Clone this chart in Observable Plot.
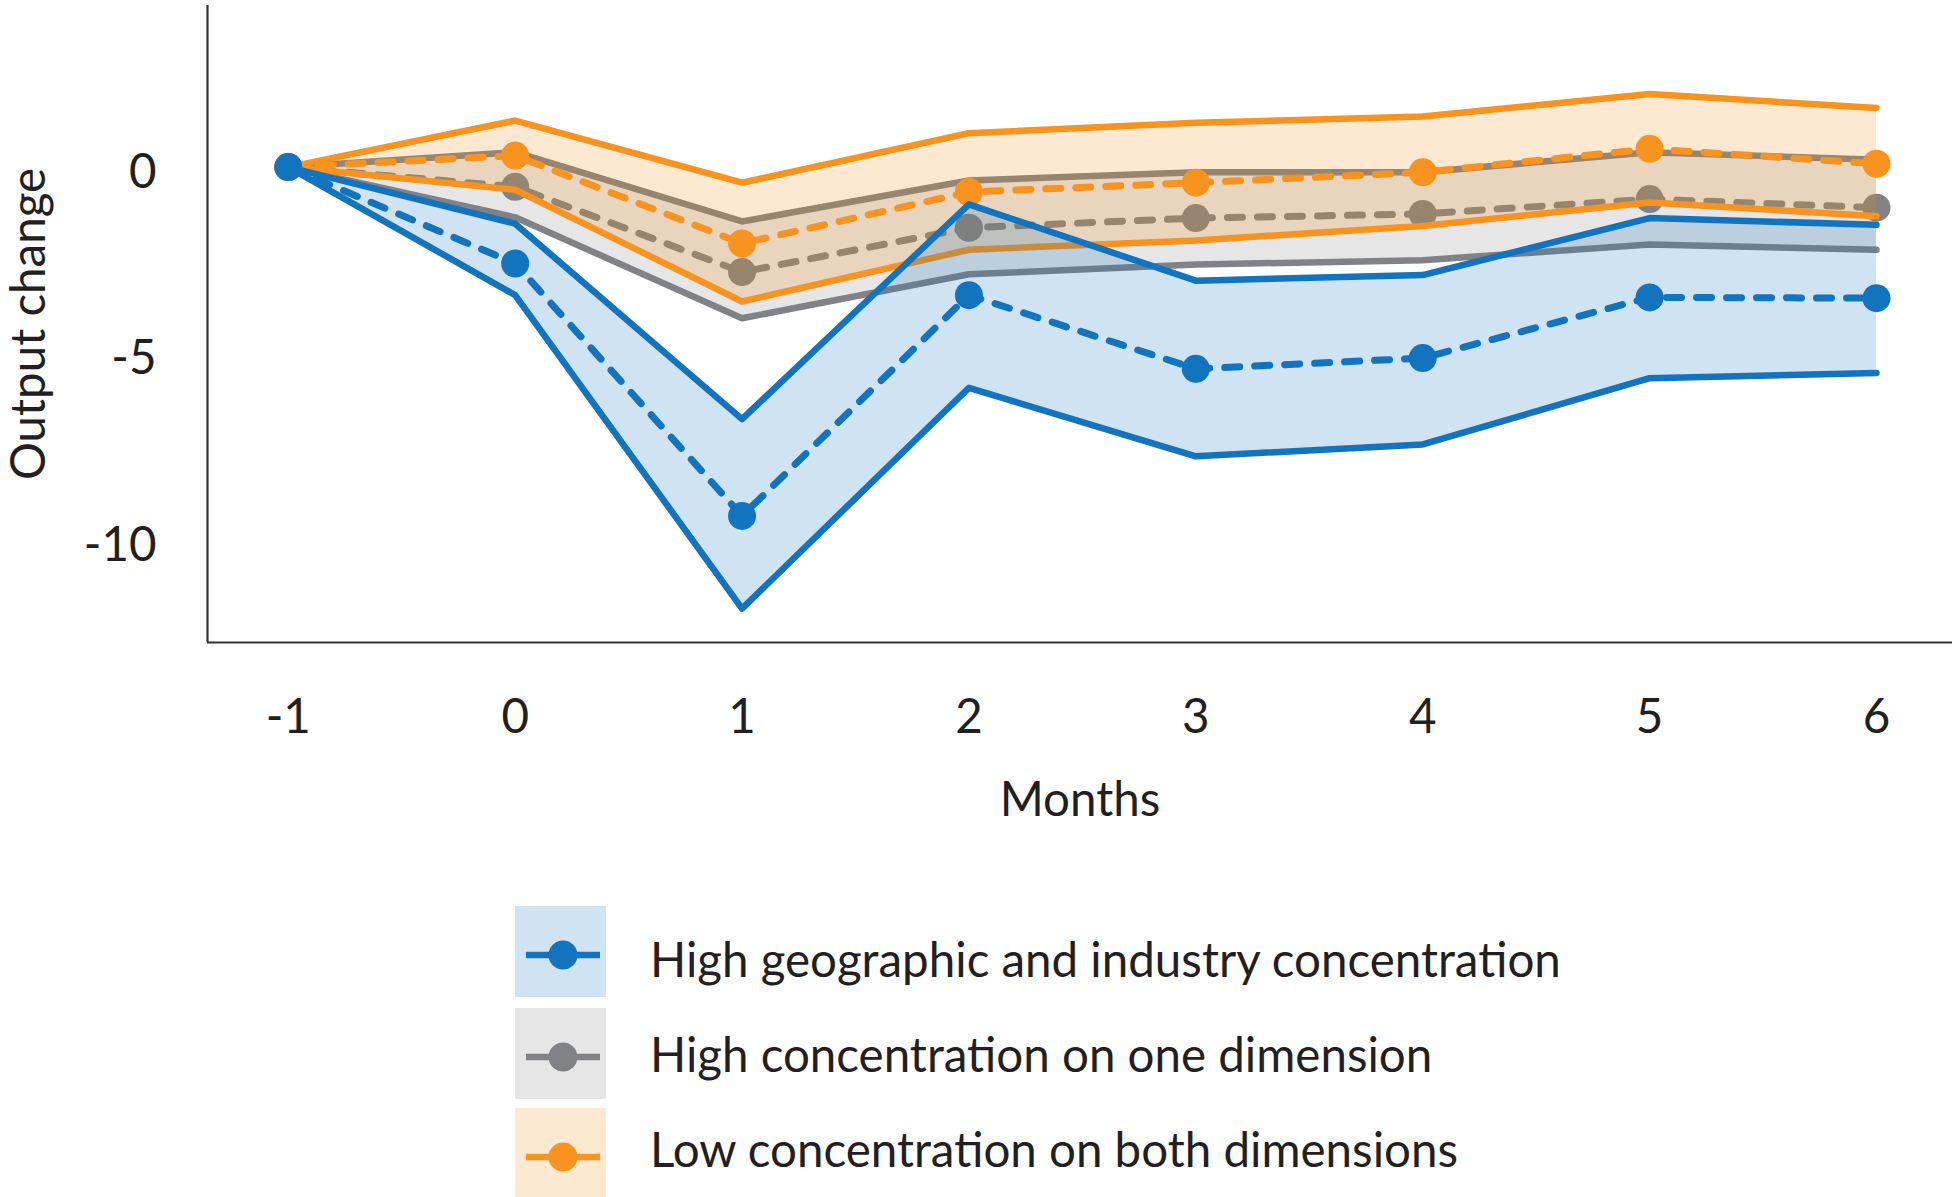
<!DOCTYPE html>
<html>
<head>
<meta charset="utf-8">
<script src="https://cdn.jsdelivr.net/npm/d3@7"></script>
<script src="https://cdn.jsdelivr.net/npm/@observablehq/plot@0.6"></script>
<style>
  html, body { margin: 0; padding: 0; background: #fff; }
  #wrap { position: relative; width: 1952px; height: 1197px; overflow: hidden; }
  #legend { position: absolute; left: 0; top: 880px; }
</style>
</head>
<body>
<div id="wrap"><div id="chart"></div><div id="legend"></div></div>
<script>
// ---- data ----
const months = [-1, 0, 1, 2, 3, 4, 5, 6];

const seriesNames = [
  "High geographic and industry concentration",
  "High concentration on one dimension",
  "Low concentration on both dimensions"
];
const seriesColors = ["#1273BE", "#808285", "#F7931E"];

// High geographic and industry concentration
const blueMean  = [0, -2.59, -9.37, -3.44, -5.42, -5.13, -3.50, -3.52];
const blueUpper = [0, -1.52, -6.77, -1.00, -3.05, -2.90, -1.37, -1.55];
const blueLower = [0, -3.44, -11.86, -5.93, -7.77, -7.45, -5.67, -5.53];

// High concentration on one dimension
const grayMean  = [0, -0.53, -2.82, -1.63, -1.37, -1.26, -0.86, -1.09];
const grayUpper = [0, 0.40, -1.46, -0.36, -0.14, -0.14, 0.40, 0.20];
const grayLower = [0, -1.35, -4.06, -2.88, -2.62, -2.50, -2.08, -2.22];

// Low concentration on both dimensions
const orangeMean  = [0, 0.31, -2.05, -0.67, -0.42, -0.14, 0.49, 0.09];
const orangeUpper = [0, 1.25, -0.42, 0.91, 1.19, 1.36, 1.96, 1.59];
const orangeLower = [0, -0.61, -3.61, -2.22, -1.97, -1.58, -0.95, -1.32];

const xTicks = [-1, 0, 1, 2, 3, 4, 5, 6];
const yTicks = [0, -5, -10];
const xDomain = [-1.356, 6.335];
const yDomain = [-12.77, 4.34];

// ---- build tables ----
function table(mean, upper, lower) {
  return months.map((m, i) => ({month: m, mean: mean[i], upper: upper[i], lower: lower[i]}));
}
const groups = [
  {data: table(grayMean, grayUpper, grayLower), color: seriesColors[1]},
  {data: table(orangeMean, orangeUpper, orangeLower), color: seriesColors[2]},
  {data: table(blueMean, blueUpper, blueLower), color: seriesColors[0]}
];

const FONT = "Lato, 'Open Sans', sans-serif";
const FS = 47.5;
const LW = 6.5;

const marks = [];
for (const g of groups) {
  marks.push(Plot.areaY(g.data, {x: "month", y1: "lower", y2: "upper", fill: g.color, fillOpacity: 0.2}));
  marks.push(Plot.lineY(g.data, {x: "month", y: "upper", stroke: g.color, strokeWidth: LW}));
  marks.push(Plot.lineY(g.data, {x: "month", y: "lower", stroke: g.color, strokeWidth: LW}));
  marks.push(Plot.lineY(g.data, {x: "month", y: "mean", stroke: g.color, strokeWidth: 7, strokeDasharray: "15,15"}));
  marks.push(Plot.dot(g.data, {x: "month", y: "mean", fill: g.color, r: 14}));
}

const chart = Plot.plot({
  width: 1952,
  height: 880,
  marginLeft: 207,
  marginRight: 0,
  marginTop: 5,
  marginBottom: 238,
  style: {fontFamily: FONT, fontSize: FS + "px", color: "#231F20", background: "#fff"},
  x: {domain: xDomain},
  y: {domain: yDomain},
  marks: [
    ...marks,
    Plot.ruleX([xDomain[0]], {stroke: "#333", strokeWidth: 2.2}),
    Plot.ruleY([yDomain[0]], {stroke: "#333", strokeWidth: 2.2}),
    Plot.axisX({ticks: xTicks, tickSize: 0, tickPadding: 57, tickFormat: d => String(d), label: null, fontSize: FS}),
    Plot.axisY({ticks: yTicks, tickSize: 0, tickPadding: 51, tickFormat: d => String(d), label: null, dy: 6, fontSize: FS}),
    Plot.text(["Months"], {frameAnchor: "bottom", textAnchor: "middle", dy: 158, lineAnchor: "middle", fontSize: FS, fill: "#231F20"}),
    Plot.text(["Output change"], {frameAnchor: "left", textAnchor: "middle", dx: -178, rotate: -90, lineAnchor: "middle", fontSize: FS, fill: "#231F20"})
  ]
});
document.getElementById("chart").appendChild(chart);

// ---- legend ----
const legendTops = [26, 128, 228];
const legendBase = [97, 192, 287];
const lg = d3.select("#legend").append("svg")
  .attr("width", 1952).attr("height", 317)
  .style("font-family", FONT).style("font-size", FS + "px");
seriesNames.forEach((name, i) => {
  const c = seriesColors[i];
  const g = lg.append("g");
  g.append("rect").attr("x", 515).attr("y", legendTops[i]).attr("width", 91).attr("height", 91)
    .attr("fill", c).attr("fill-opacity", 0.2);
  const cy = legendTops[i] + 49;
  g.append("line").attr("x1", 526).attr("x2", 600).attr("y1", cy).attr("y2", cy)
    .attr("stroke", c).attr("stroke-width", 6.5);
  g.append("circle").attr("cx", 563).attr("cy", cy).attr("r", 14.5).attr("fill", c);
  g.append("text").attr("x", 650).attr("y", legendBase[i]).attr("fill", "#231F20").text(name);
});
</script>
</body>
</html>
